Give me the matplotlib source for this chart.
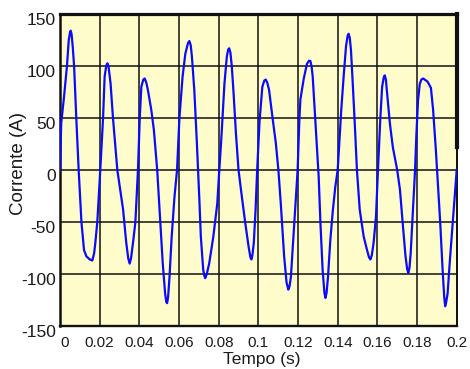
import matplotlib
matplotlib.use("Agg")
import matplotlib.pyplot as plt
from matplotlib.transforms import ScaledTranslation

# current waveform, read point by point (time in s, current in A)
tempo = [
    0.0000, 0.0006, 0.0020, 0.0035, 0.0044, 0.0050, 0.0054, 0.0058, 0.0064,
    0.0071, 0.0082, 0.0094, 0.0108, 0.0121, 0.0133, 0.0150, 0.0163, 0.0172,
    0.0178, 0.0188, 0.0203, 0.0217, 0.0225, 0.0233, 0.0239, 0.0245, 0.0255,
    0.0267, 0.0289, 0.0318, 0.0334, 0.0344, 0.0351, 0.0358, 0.0368, 0.0380,
    0.0393, 0.0402, 0.0410, 0.0420, 0.0427, 0.0435, 0.0443, 0.0460, 0.0473,
    0.0490, 0.0502, 0.0518, 0.0530, 0.0536, 0.0540, 0.0545, 0.0552, 0.0563,
    0.0577, 0.0590, 0.0602, 0.0618, 0.0632, 0.0645, 0.0652, 0.0659, 0.0665,
    0.0677, 0.0690, 0.0702, 0.0710, 0.0722, 0.0728, 0.0732, 0.0740, 0.0752,
    0.0773, 0.0793, 0.0803, 0.0812, 0.0819, 0.0829, 0.0841, 0.0848, 0.0853,
    0.0859, 0.0866, 0.0875, 0.0887, 0.0900, 0.0917, 0.0934, 0.0951, 0.0960,
    0.0965, 0.0970, 0.0977, 0.0986, 0.0994, 0.1006, 0.1020, 0.1030, 0.1037,
    0.1045, 0.1054, 0.1071, 0.1088, 0.1101, 0.1113, 0.1130, 0.1142, 0.1151,
    0.1157, 0.1164, 0.1181, 0.1198, 0.1207, 0.1212, 0.1229, 0.1245, 0.1255,
    0.1262, 0.1268, 0.1274, 0.1284, 0.1296, 0.1304, 0.1313, 0.1324, 0.1333,
    0.1338, 0.1344, 0.1351, 0.1363, 0.1376, 0.1388, 0.1400, 0.1408, 0.1418,
    0.1430, 0.1442, 0.1450, 0.1455, 0.1461, 0.1467, 0.1476, 0.1486, 0.1497,
    0.1511, 0.1531, 0.1548, 0.1558, 0.1565, 0.1572, 0.1581, 0.1593, 0.1603,
    0.1615, 0.1624, 0.1632, 0.1637, 0.1643, 0.1649, 0.1663, 0.1678, 0.1700,
    0.1714, 0.1729, 0.1742, 0.1750, 0.1756, 0.1762, 0.1768, 0.1776, 0.1783,
    0.1790, 0.1797, 0.1805, 0.1814, 0.1822, 0.1831, 0.1853, 0.1870, 0.1881,
    0.1895, 0.1905, 0.1917, 0.1929, 0.1937, 0.1942, 0.1947, 0.1954, 0.1966,
    0.1980, 0.1993, 0.2000,
]
corrente = [
    0, 45, 70, 100, 125, 132, 134, 131, 119,
    100, 50, 0, -50, -77, -83, -86, -87, -80,
    -70, -50, 0, 50, 90, 100, 102.6, 99, 83,
    50, 0, -38, -70, -85, -90, -85, -70, -50,
    0, 50, 80, 87, 88, 84, 77, 58, 39,
    0, -38, -90, -119, -127, -128, -122, -103, -64,
    -26, 0, 50, 90, 112, 122, 124, 120, 109,
    77, 26, -26, -64, -96, -102, -104, -100, -90,
    -64, -32, 0, 26, 50, 83, 109, 116, 117,
    113, 100, 74, 35, 0, -26, -51, -74, -84,
    -86, -82, -70, -38, 0, 47, 80, 86, 87,
    84, 77, 51, 26, 0, -32, -83, -108, -115,
    -112, -103, -51, 0, 50, 68, 88, 102, 105,
    105, 100, 90, 58, 19, -6, -51, -96, -118,
    -123, -118, -103, -67, -38, -16, 0, 26, 58,
    90, 119, 129, 131, 127, 115, 83, 45, 0,
    -38, -64, -77, -84, -86, -82, -70, -45, 0,
    50, 80, 89, 91, 87, 74, 45, 22, 0,
    -19, -54, -83, -95, -99, -94, -80, -51, -26,
    0, 35, 67, 83, 87, 88, 85, 79, 58,
    19, -13, -51, -96, -122, -131, -127, -119, -86,
    -51, -19, 0,
]

x_ticks = [0, 0.02, 0.04, 0.06, 0.08, 0.1, 0.12, 0.14, 0.16, 0.18, 0.2]
x_labels = ["0", "0.02", "0.04", "0.06", "0.08", "0.1", "0.12", "0.14",
            "0.16", "0.18", "0.2"]
y_ticks = [-150, -100, -50, 0, 50, 100, 150]
y_labels = ["-150", "-100", "-50", "0", "50", "100", "150"]

plt.rcParams["font.family"] = ["Liberation Sans", "DejaVu Sans"]

fig = plt.figure(figsize=(4.70, 3.69), dpi=100)
ax = fig.add_axes([0.1277, 0.1165, 0.9717 - 0.1277, 0.962 - 0.1165])
ax.set_facecolor("#fffccb")

ax.plot(tempo, corrente, color="#0a0aff", lw=1.6, solid_joinstyle="round", zorder=3)

ax.set_xlim(0, 0.2)
ax.set_ylim(-150, 150)
ax.set_xticks(x_ticks)
ax.set_xticklabels(x_labels, fontsize=11)
ax.set_yticks(y_ticks)
ax.set_yticklabels(y_labels, fontsize=12.5)
ax.tick_params(length=0, colors="#1a1a1a")
ax.tick_params(axis="x", pad=7)
ax.tick_params(axis="y", pad=3)
ax.grid(True, color="#111111", lw=1.1)
ax.set_axisbelow(True)

# y labels sit a little below their grid line
for lbl in ax.get_yticklabels():
    lbl.set_transform(lbl.get_transform() + ScaledTranslation(0, -0.05, fig.dpi_scale_trans))
first = ax.get_xticklabels()[0]
first.set_transform(first.get_transform() + ScaledTranslation(0.05, 0, fig.dpi_scale_trans))

ax.spines["left"].set_linewidth(1.8)
ax.spines["bottom"].set_linewidth(1.7)
ax.spines["top"].set_linewidth(2.3)
ax.spines["right"].set_linewidth(1.4)
for s in ax.spines.values():
    s.set_color("#111111")
# heavier frame on the upper part of the right side
ax.plot([1, 1], [0.574, 1], transform=ax.transAxes, color="#111111", lw=3.0,
        solid_capstyle="projecting", clip_on=False, zorder=5)

ax.set_xlabel("Tempo (s)", fontsize=12.5, color="#1a1a1a")
ax.xaxis.set_label_coords(0.509, -0.083)
ax.set_ylabel("Corrente (A)", fontsize=13.5, color="#1a1a1a")
ax.yaxis.set_label_coords(-0.083, 0.52)

fig.savefig("out.png", dpi=100)
